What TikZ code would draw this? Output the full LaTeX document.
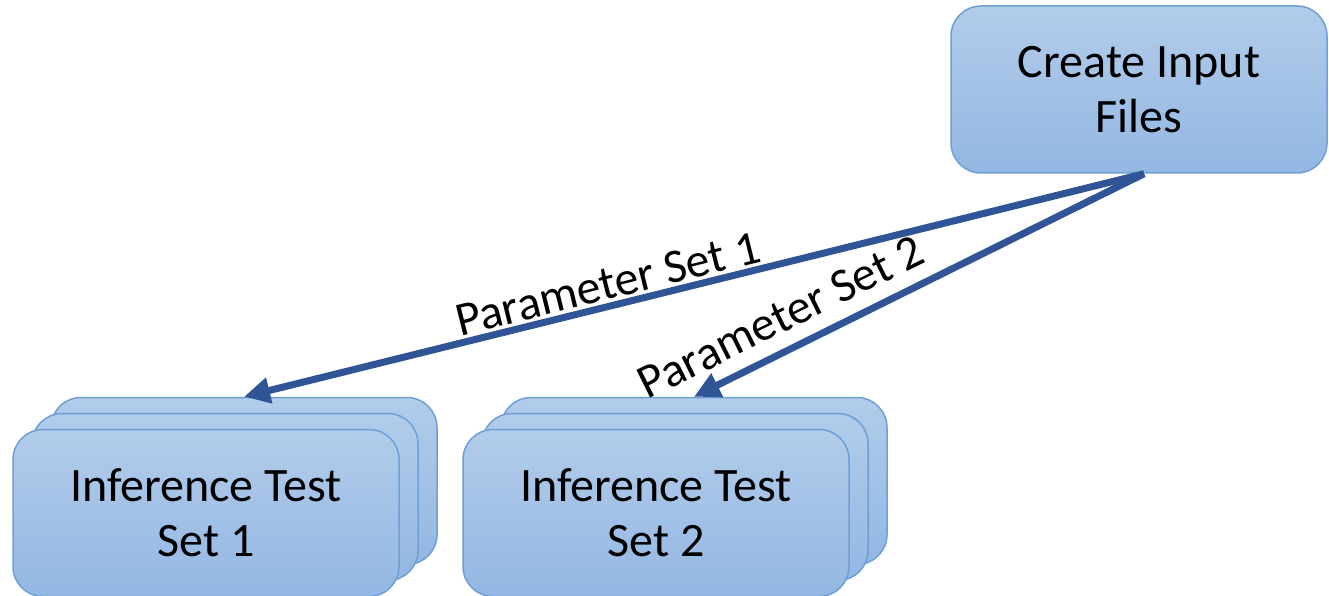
\documentclass[tikz,border=0pt]{standalone}
\usepackage{fontspec}
\setmainfont{Carlito}
\usetikzlibrary{arrows.meta}
\definecolor{boxtop}{RGB}{178,204,234}
\definecolor{boxbot}{RGB}{147,183,227}
\definecolor{boxline}{RGB}{110,160,215}
\definecolor{arrowblue}{RGB}{47,85,151}
\tikzset{
  procbox/.style={draw=boxline, line width=1.5pt, rounded corners=30pt,
    top color=boxtop, bottom color=boxbot,
    minimum width=386pt, minimum height=167pt, inner sep=0pt,
    align=center, font=\fontsize{48}{55}\selectfont},
  flow/.style={draw=arrowblue, line width=7pt,
    -{Triangle[length=26pt,width=25pt]}},
  flowlabel/.style={font=\fontsize{48}{52}\selectfont, sloped, inner sep=0pt}
}
\begin{document}
\begin{tikzpicture}[x=1pt,y=-1pt]
\useasboundingbox (0,0) rectangle (1329,596);
% top box
\node[procbox, minimum width=376pt] (create) at (1139,89.5) {Create Input\\Files};
% left stack
\node[procbox] (a3) at (244,481) {};
\node[procbox] (a2) at (225,497) {};
\node[procbox] (a1) at (206,513) {Inference Test\\Set 1};
% right stack
\node[procbox] (b3) at (694,481) {};
\node[procbox] (b2) at (675,497) {};
\node[procbox] (b1) at (656,513) {Inference Test\\Set 2};
% arrows
\coordinate (s) at ([xshift=5pt]create.south);
\draw[flow] (s) -- (a3.north)
  node[flowlabel, pos=0.59, yshift=22pt] (l1) {Parameter Set 1};
\draw[flow] (s) -- (b3.north)
  node[flowlabel, pos=0.775, yshift=33pt] (l2) {Parameter Set 2};
\end{tikzpicture}
\end{document}
